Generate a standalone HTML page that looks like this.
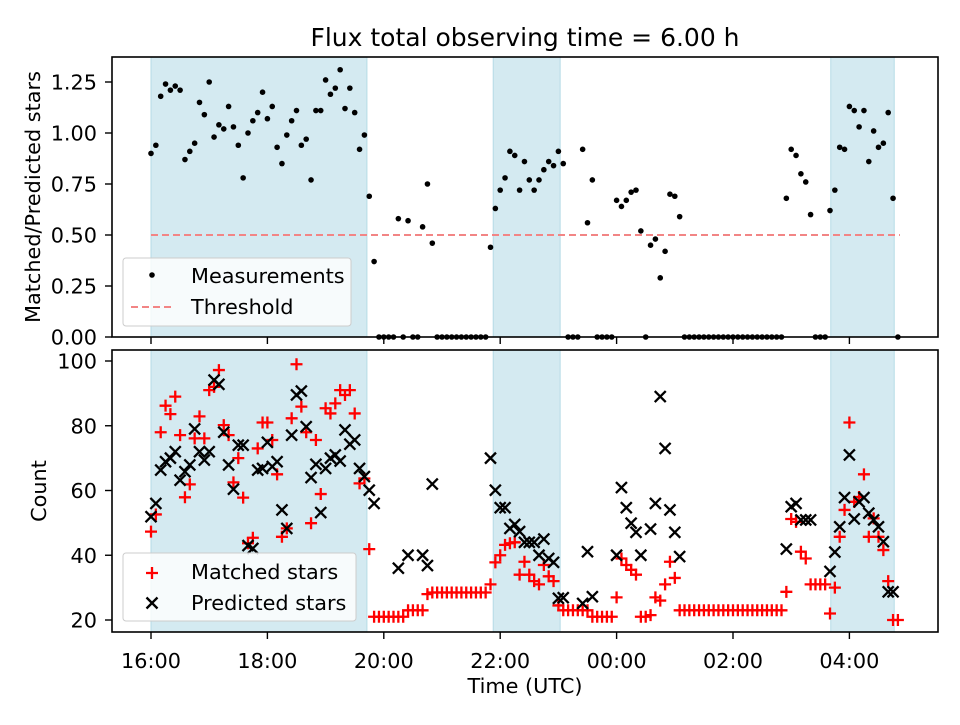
<!DOCTYPE html>
<html><head><meta charset="utf-8"><style>
body{margin:0;background:#fff;}
svg text{font-family:"DejaVu Sans","Liberation Sans",sans-serif;fill:#000;}
</style></head><body>
<svg id="chart" width="960" height="720" xmlns="http://www.w3.org/2000/svg">
<rect width="960" height="720" fill="#fff"/>
<g id="shadeTop"></g><g id="shadeBot"></g>
<g id="marksTop"></g><g id="marksBot"></g>
<g id="axes"></g>
</svg>
<script>
// ---- data ----
const startHour = 16; // first sample 16:00 UTC, 5-minute cadence
const ratio = [.90,.94,1.18,1.24,1.21,1.23,1.21,.87,.91,.95,1.15,1.09,1.25,.98,1.04,1.02,1.13,1.03,.94,.78,1.00,1.06,1.10,1.20,1.07,1.13,.93,.85,.99,1.06,1.11,.94,.97,.77,1.11,1.11,1.26,1.19,1.22,1.31,1.12,1.22,1.10,.92,.99,.69,.37,
0,0,0,0,.58,0,.57,0,0,.54,.75,.46,0,0,0,0,0,0,0,0,0,0,0,.44,.63,.72,.78,.91,.89,.72,.86,.77,.72,.77,.82,.86,.84,.91,.85,0,0,0,.92,.56,.77,0,0,0,0,.67,.64,.67,.71,.72,.52,0,.45,.48,.29,.42,.70,.69,.59,
0,0,0,0,0,0,0,0,0,0,0,0,0,0,0,0,0,0,0,0,0,.68,.92,.89,.80,.76,.60,0,0,0,.62,.72,.93,.92,1.13,1.11,1.03,1.11,.86,1.01,.93,.95,1.10,.68,0];
const matched = [47.3,52.6,78,86.2,83.6,89,77.1,57.9,61.9,76.1,82.9,76.1,91,92,97.2,80.2,77.1,62.5,70,57.8,43.7,45.4,73,81,81,75.6,65,45.7,48.3,82.3,99,85.9,78,49.9,75.6,58.9,85.4,83.8,86.9,91,89.5,91,83.8,62.2,63.7,41.9,21,
21,21,21,21,21,21,23,23,23,23,28,28.5,28.5,28.5,28.5,28.5,28.5,28.5,28.5,28.5,28.5,28.5,28.5,31,37.8,40,43.2,43.7,44,34,38,34,32,31,37,33.5,32,24.5,23,23,23,23,23,23,21,21,21,21,21,27,39,37,35.5,34,21,21,21.5,27,26,31,38,33,23,
23,23,23,23,23,23,23,23,23,23,23,23,23,23,23,23,23,23,23,23,23,28.7,51.2,50.3,41.1,39,31,31,31,31,22,30,45.7,54,81,56.5,58,65,45.7,51.4,45.7,41.6,32,20,20];
const predicted = [51.9,56,66.3,68.9,70,72,63.2,65.8,67.9,79,72,69.4,72,94.1,92.8,78,67.9,60.4,74,74,43,42.1,66.3,66.8,74.9,67.4,68.9,54,48.3,77.1,89.5,90.7,79.7,64,68.1,53.2,66.8,70,71,69.1,78.7,74.3,75.6,66.8,64.3,60.1,56,
null,null,null,null,36,null,40,null,null,40,36.8,62,null,null,null,null,null,null,null,null,null,null,null,70,60.1,54.7,54.7,48.3,49.5,47.3,44,44,44,40,45,39,37.8,26.7,26.9,null,null,null,25.1,41.1,27.2,null,null,null,null,40,60.9,54.7,49.9,47.1,40,null,48.1,56,89,73,54,47.1,39.6,
null,null,null,null,null,null,null,null,null,null,null,null,null,null,null,null,null,null,null,null,null,41.9,55,56,50.9,50.9,50.9,null,null,null,35,41,48.8,57.8,71,51.2,56.5,57.8,53,50.9,48.8,44.2,28.7,28.7,null];
const shadeStart = [16.0, 21.88, 3.68];
const shadeEnd = [19.71, 23.03, 4.77];
const threshold = 0.5;
const xTickLabels = ["16:00","18:00","20:00","22:00","00:00","02:00","04:00"];
const xTickHours = [16,18,20,22,24,26,28];
const topTicks = [0,0.25,0.5,0.75,1.0,1.25];
const botTicks = [20,40,60,80,100];

// ---- scales ----
const L=112,R=938,T1=57,B1=337,T2=350,B2=632;
function xh(h){return 151 + (h-16)*58.2;}
function xi(i){return xh(startHour + i/12);}
function yTop(v){return 337 - v*204;}
function yBot(c){return 620 - (c-20)*3.2375;}
function unwrap(h){return h<12? h+24 : h;}

const NS="http://www.w3.org/2000/svg";
function mk(tag,attrs,parent){const e=document.createElementNS(NS,tag);for(const k in attrs)e.setAttribute(k,attrs[k]);parent.appendChild(e);return e;}
const shT=document.getElementById('shadeTop'), shB=document.getElementById('shadeBot');
const mT=document.getElementById('marksTop'), mB=document.getElementById('marksBot');
const ax=document.getElementById('axes');

for(let k=0;k<shadeStart.length;k++){
  const x0=xh(unwrap(shadeStart[k])), x1=xh(unwrap(shadeEnd[k]));
  const a=mk('rect',{x:x0,y:T1,width:x1-x0,height:B1-T1,fill:'#d4eaf1',stroke:'#b5dbe6','stroke-width':1},shT);
  
  
  const b=mk('rect',{x:x0,y:T2,width:x1-x0,height:B2-T2,fill:'#d4eaf1',stroke:'#b5dbe6','stroke-width':1},shB);
  
  
}
const th=mk('line',{x1:xi(0),x2:xi(ratio.length-1)+2,y1:yTop(threshold),y2:yTop(threshold),stroke:'#f28585','stroke-width':2,'stroke-dasharray':'7,4'},mT);


for(let i=0;i<ratio.length;i++){
  const c=mk('circle',{cx:xi(i),cy:yTop(ratio[i]),r:2.8,fill:'#000'},mT);
  
  
}
for(let i=0;i<matched.length;i++){
  const x=xi(i), y=yBot(matched[i]);
  const p=mk('path',{d:`M${x-6},${y}H${x+6}M${x},${y-6}V${y+6}`,stroke:'#f00','stroke-width':2.3,fill:'none'},mB);
  
  
}
for(let i=0;i<predicted.length;i++){
  if(predicted[i]===null) continue;
  const x=xi(i), y=yBot(predicted[i]);
  const p=mk('path',{d:`M${x-5.5},${y-5.5}L${x+5.5},${y+5.5}M${x-5.5},${y+5.5}L${x+5.5},${y-5.5}`,stroke:'#000','stroke-width':2.3,fill:'none'},mB);
  
  
}
const f1=mk('rect',{x:L,y:T1,width:R-L,height:B1-T1,fill:'none',stroke:'#000','stroke-width':1.6},ax);


const f2=mk('rect',{x:L,y:T2,width:R-L,height:B2-T2,fill:'none',stroke:'#000','stroke-width':1.6},ax);


for(let k=0;k<xTickHours.length;k++){
  const x=xh(xTickHours[k]);
  mk('line',{x1:x,x2:x,y1:B1,y2:B1+7,stroke:'#000','stroke-width':1.4},ax);
  mk('line',{x1:x,x2:x,y1:B2,y2:B2+7,stroke:'#000','stroke-width':1.4},ax);
  const t=mk('text',{x:x,y:B2+36,'text-anchor':'middle','font-size':'20.8'},ax);
  t.textContent=xTickLabels[k];
  
  
}
for(const v of topTicks){
  const y=yTop(v);
  mk('line',{x1:L-7,x2:L,y1:y,y2:y,stroke:'#000','stroke-width':1.4},ax);
  const t=mk('text',{x:L-15,y:y+7.5,'text-anchor':'end','font-size':'20.8'},ax);
  t.textContent=v.toFixed(2);
  
  
}
for(const v of botTicks){
  const y=yBot(v);
  mk('line',{x1:L-7,x2:L,y1:y,y2:y,stroke:'#000','stroke-width':1.4},ax);
  const t=mk('text',{x:L-15,y:y+7.5,'text-anchor':'end','font-size':'20.8'},ax);
  t.textContent=String(v);
  
  
}
</script>
<svg style="position:absolute;left:0;top:0" width="960" height="720" xmlns="http://www.w3.org/2000/svg">
<text x="525" y="46" text-anchor="middle" font-size="25">Flux total observing time = 6.00 h</text>
<text transform="translate(40,197) rotate(-90)" text-anchor="middle" font-size="20.8">Matched/Predicted stars</text>
<text transform="translate(46,491) rotate(-90)" text-anchor="middle" font-size="20.8">Count</text>
<text x="525" y="693" text-anchor="middle" font-size="20.8">Time (UTC)</text>
<g>
<rect x="123" y="258" width="228" height="68" rx="3" fill="#fff" fill-opacity="0.8" stroke="#ccc"/>
<circle cx="152" cy="275" r="2.8" fill="#000"/>
<text x="191" y="283" font-size="20.8">Measurements</text>
<line x1="131" x2="172" y1="307" y2="307" stroke="#f28585" stroke-width="2" stroke-dasharray="7,4"/>
<text x="191" y="314" font-size="20.8">Threshold</text>
</g>
<g>
<rect x="123" y="553" width="233" height="68" rx="3" fill="#fff" fill-opacity="0.8" stroke="#ccc"/>
<path d="M146,573H158M152,567V579" stroke="#f00" stroke-width="2.3"/>
<text x="191" y="579" font-size="20.8">Matched stars</text>
<path d="M146.5,597.5L157.5,608.5M146.5,608.5L157.5,597.5" stroke="#000" stroke-width="2.3"/>
<text x="191" y="610" font-size="20.8">Predicted stars</text>
</g>
</svg>
</body></html>
